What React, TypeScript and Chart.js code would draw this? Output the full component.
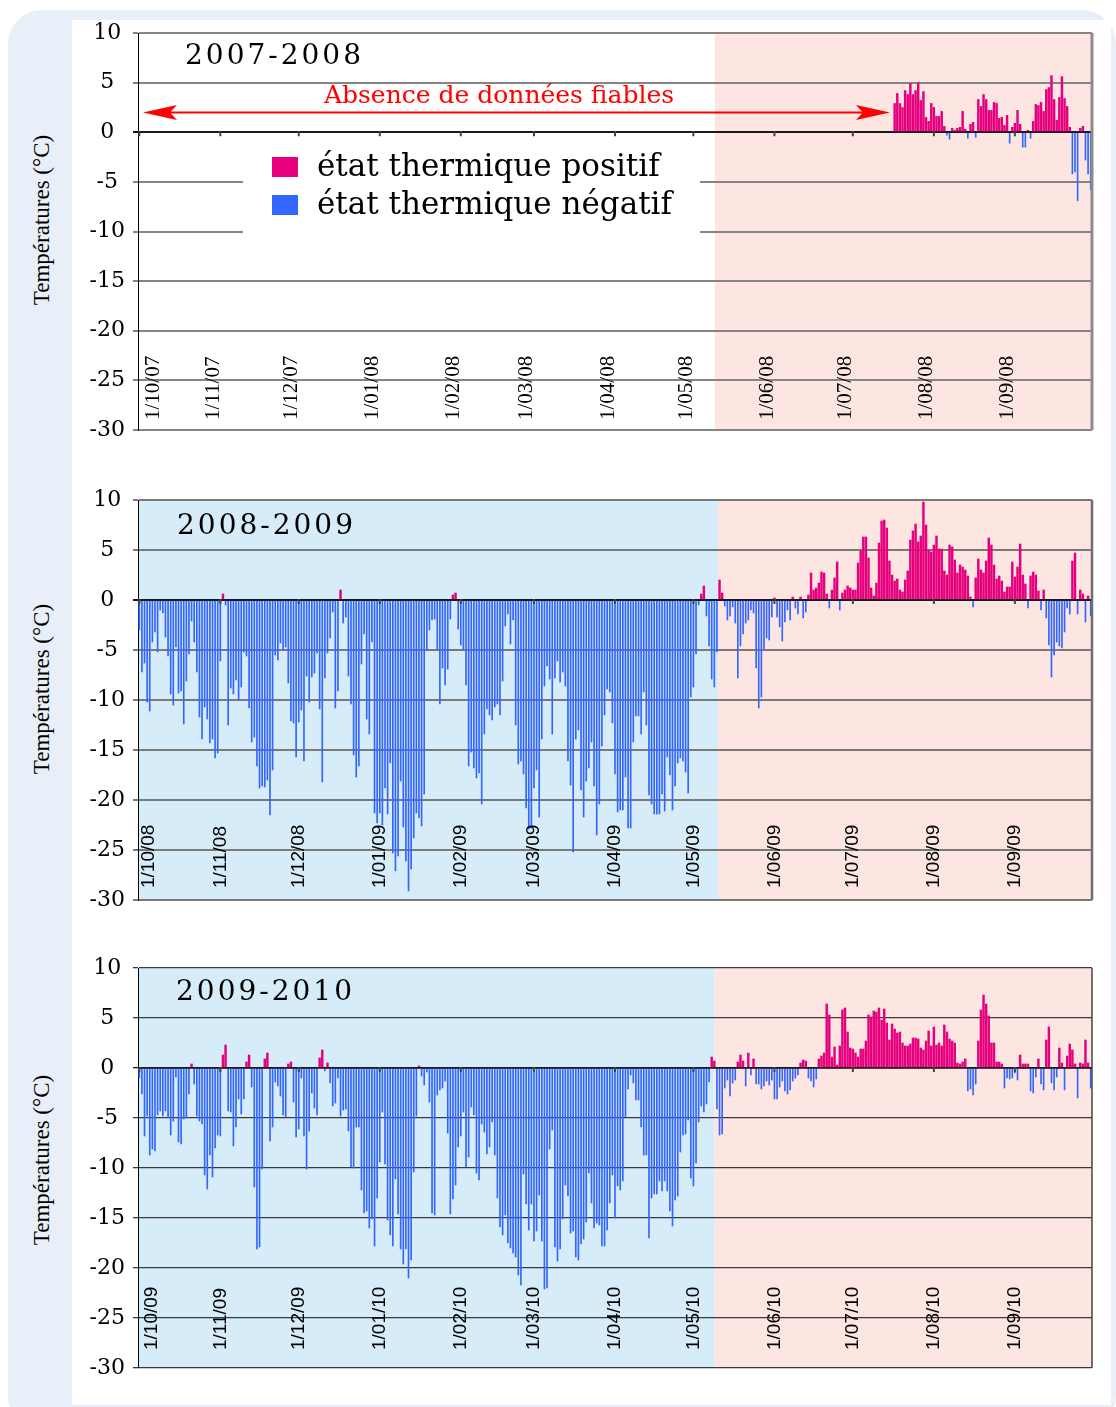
import React, { useEffect, useRef } from 'react';
import { Chart, registerables } from 'chart.js';

Chart.register(...registerables);

// ---------- data ----------
const DAY_COUNT = 365; // 1 October -> 30 September
const MONTH_START_DAYS = [0, 31, 61, 92, 123, 151, 182, 212, 243, 273, 304, 335];
const Y_MIN = -30;
const Y_MAX = 10;
const Y_STEP = 5;

const LABELS_2007_08 = ['1/10/07', '1/11/07', '1/12/07', '1/01/08', '1/02/08', '1/03/08', '1/04/08', '1/05/08', '1/06/08', '1/07/08', '1/08/08', '1/09/08'];
const LABELS_2008_09 = ['1/10/08', '1/11/08', '1/12/08', '1/01/09', '1/02/09', '1/03/09', '1/04/09', '1/05/09', '1/06/09', '1/07/09', '1/08/09', '1/09/09'];
const LABELS_2009_10 = ['1/10/09', '1/11/09', '1/12/09', '1/01/10', '1/02/10', '1/03/10', '1/04/10', '1/05/10', '1/06/10', '1/07/10', '1/08/10', '1/09/10'];

// 2007-2008: reliable data only from mid-July (day index 289)
const FIRST_DAY_2007_08 = 289;
const TEMPS_2007_08 = [
  2.9, 3.9, 2.9, 2.5, 4.2, 3.8, 4.9, 3.8, 4.2, 5,
  3.2, 4.1, 1.5, 1.1, 2.9, 2.5, 1.6, 1.6, 2.1, 0.6,
  -0.3, -0.7, 0.4, 0.2, 0.4, 0.5, 2.1, 0.3, -0.6, 0.8,
  1, -0.5, 3.3, 2.6, 3.8, 3.3, 2.2, 2.2, 3, 2.9,
  1.4, 1.5, 0.7, 1.7, -1.1, 0.5, 0.9, 2.2, 0.8, -1.5,
  -1.5, 0.2, -0.6, 1.1, 2.8, 2.7, 3, 2.1, 4.3, 4.5,
  5.7, 3.3, 1.2, 3.5, 5.6, 3.4, 2.6, 0.5, -4.2, -4,
  -6.9, 0.4, 0.6, -2.8, -4.2, -5.8,
];

const TEMPS_2008_09 = [
  // Oct
  -3, -7.2, -6.3, -10.2, -11.1, -4.2, -3.2, -5.2, -1, -1.3,
  -3.7, -5.6, -9.4, -10.5, -4.7, -9.3, -9.1, -12.4, -8.1, -5.4,
  -2.1, -4.2, -7.2, -11.7, -13.9, -10.7, -11.9, -14.3, -13.9, -15.8,
  -15.3,
  // Nov
  -6.1, 0.6, -0.5, -12.5, -8.8, -9.4, -8, -10, -8.7, -5.2,
  -5.6, -10.8, -14.2, -13.7, -16.6, -18.8, -18.6, -18.7, -18, -21.5,
  -17, -5.5, -6, -4.3, -5, -4.7, -8.3, -12.1, -12.3, -15.7,
  // Dec
  -12.2, -11, -16.1, -7.6, -10.2, -7.7, -7.3, -5.3, -10.9, -18.2,
  -7.8, -5.3, -3.8, -1.2, -10.8, -9.1, 1, -2.3, -1.7, -7.6,
  -10.4, -15.5, -17.7, -16.6, -6.4, -3.4, -11.9, -13.4, -4.2, -21.3,
  -22.3,
  // Jan
  -21.3, -22.5, -18.8, -21.4, -16.3, -25.3, -27.1, -25.6, -18.1, -22.7,
  -26.1, -29.1, -26.9, -23.8, -21.3, -21.8, -22.6, -19.4, -5, -3,
  -2, -1.9, -4.9, -10.4, -6.8, -8.5, -6.9, -1.9, 0.5, 0.7,
  -2.9,
  // Feb
  -4.5, -5, -8.5, -16.6, -15.2, -16.8, -17.8, -17.3, -20.4, -13.4,
  -10.9, -11.5, -12, -10.7, -10.4, -11.5, -8.1, -2.6, -1.4, -4.4,
  -2, -12.5, -16.4, -16.1, -17.4, -20.8, -22.9, -22.8,
  // Mar
  -18.8, -17, -21.7, -13.9, -8.6, -6.6, -7.9, -13.4, -7.8, -6.1,
  -8.2, -7.2, -8.6, -16.1, -18.5, -25.2, -13.9, -13, -19, -21.7,
  -18.1, -16.8, -14.2, -18.6, -23.5, -20.4, -14.6, -11.5, -8.9, -9.2,
  -12.3,
  // Apr
  -17.4, -21.2, -21, -21, -17.7, -22.8, -22.8, -14.2, -11.6, -11.6,
  -13.4, -9.2, -12.5, -19.5, -20.4, -21.4, -21.4, -21.4, -19.4, -21.1,
  -15.7, -17.5, -21, -18.6, -16.3, -15.8, -16.1, -17.2, -19.3, -9.7,
  // May
  -8.7, -5.4, -0.5, 0.6, 1.4, -1.6, -4.6, -7.9, -8.7, -5.2,
  2, 0.7, -0.6, -2, -1.6, -0.7, -2.3, -7.8, -4.6, -3.4,
  -2.3, -2, -1, -1.3, -6.8, -10.8, -9.7, -4.9, -3.8, -4,
  -1.7,
  // Jun
  0.2, -1.7, -2.7, -4.1, -2.2, -1, -2, 0.3, -0.8, -1.4,
  0.3, -1.8, -1.2, 0.5, 2.7, 1, 1.2, 1.7, 2.8, 2.7,
  0.6, -0.8, 1, 2.2, 3.8, -1, 0.7, 1, 1.4, 1.2,
  // Jul
  1, 1, 3.7, 4.9, 6.3, 6.3, 4.2, 1.2, 0.4, 1.7,
  5.7, 7.9, 8, 7.2, 3.9, 2.5, 1.9, 2.1, 1, 0.8,
  2, 2.9, 6, 6.9, 7.6, 5.8, 6.4, 9.8, 7.5, 5,
  4.8,
  // Aug
  5.5, 6.4, 5.1, 5.1, 2.9, 2.5, 5.5, 5.3, 4, 2.7,
  3.5, 3.3, 3, 2.4, 0.3, -0.7, 2.2, 4.1, 3, 2.7,
  3.9, 6.2, 5.5, 3.5, 2.1, 2.4, 1.9, 0.8, 1.3, 1.3,
  3.8,
  // Sep
  2.3, 3.3, 5.6, 2.5, 1.6, -0.8, 2.4, 2.8, 2.5, 0.9,
  -1, 1, -1.8, -4.5, -7.7, -5.5, -4.2, -4.6, -4.8, -3.2,
  -0.8, -1.4, 3.9, 4.7, -1.4, 1, 0.6, -2.2, 0.4, -1.6,
];

const TEMPS_2009_10 = [
  // Oct
  -1, -2.6, -6.8, -4.8, -8.7, -8.1, -8.3, -4.7, -4.3, -4.8,
  -4.3, -5, -6.7, -5.3, -0.9, -7.4, -7.6, -5.1, -5, -2.6,
  0.4, -1.6, -4.8, -5.3, -5.6, -10.7, -12.1, -8.7, -10.9, -8,
  -6.7,
  // Nov
  -6.8, 1.3, 2.3, -4.3, -4.4, -7.8, -5.9, -3.1, -4.6, -3.1,
  0.6, 1.3, -1.9, -11.9, -18.1, -17.9, -10.1, 0.9, 1.5, -7.3,
  -5.9, -1.4, -1.8, -2.8, -4.7, -4.9, 0.4, 0.6, -3.4, -6.9,
  // Dec
  -6.1, -1, -6.8, -10.1, -6.3, -2.5, -4, -4.7, 1, 1.8,
  -0.3, 0.5, -1.5, -3.8, -3.5, -1, -4.8, -4.2, -4.1, -6.3,
  -9.9, -10, -5.9, -5.9, -12.2, -14.5, -14.3, -16, -15.1, -17.8,
  -13,
  // Jan
  -9.4, -4.4, -9.6, -15.2, -16.7, -17.8, -11.1, -14.6, -18.1, -19.6,
  -18.1, -21, -19.2, -10.4, -4.8, 0.2, -0.8, -1.7, -0.4, -3.4,
  -14.5, -14.7, -2.7, -2.2, -2, -1.3, -6.5, -14.6, -13.1, -11.7,
  -7.9,
  // Feb
  -6.8, -4.4, -9.9, -8.9, -3.9, -4.7, -10.5, -11.2, -5.6, -6.4,
  -8.6, -7.9, -5.4, -8.7, -13, -15.9, -16.7, -14.7, -17.5, -18,
  -18.5, -18.9, -20.7, -21.7, -10.6, -13.6, -16.2, -13.6,
  // Mar
  -17.3, -16.3, -12.7, -17.3, -22.1, -22, -8.1, -6.2, -17.9, -19.3,
  -18.1, -15.1, -11.7, -12.8, -16.5, -16.3, -18.9, -19.2, -17.6, -17.1,
  -15.4, -10.5, -13.5, -16, -15.5, -15.7, -17.8, -17.8, -16.2, -13.5,
  -10.7,
  // Apr
  -15, -11.8, -12.2, -11.3, -4.9, -2.1, -0.7, -1.5, -3.2, -3.2,
  -5.9, -8.7, -8.7, -17, -13, -12.6, -12.6, -11.3, -12.3, -11.3,
  -12.3, -14.3, -15.8, -13.2, -12.8, -8.4, -6.7, -6.6, -5.2, -11,
  // May
  -11.8, -9.5, -5.4, -3.8, -4.4, -3.6, -1.4, 1.1, 0.7, -4.1,
  -6.7, -6.6, -2, -1.2, -2.8, -1.5, -1.2, 0.6, 1.3, 0.7,
  -1.8, 1.5, -0.7, 0.9, -1.6, -1.6, -2.1, -1.8, -1.3, -1.7,
  -1.2,
  // Jun
  -3.1, -3.1, -1.9, -1.3, -2.3, -2.6, -2.2, -1.3, -1, -0.7,
  0.5, 0.8, 0.7, -1, -1.3, -1.9, -1.1, 0.9, 1.2, 1.5,
  6.4, 5.3, 1.1, 2.1, 0.3, 2.2, 5.8, 6, 3.6, 2,
  // Jul
  1.9, 1.5, 1.1, 1.9, 1.9, 2.7, 5.3, 5.1, 5.7, 5.6,
  6, 4.8, 5.9, 4.5, 2.8, 4.4, 3.9, 3.5, 3.6, 2.5,
  2.2, 2.2, 2.4, 3, 3, 2.9, 2, 1.8, 2.7, 3.7,
  2.2,
  // Aug
  4.1, 2.3, 2.5, 2.2, 4.3, 3.6, 2.9, 2.7, 2.5, 0.5,
  0.4, 0.6, 0.9, -2.3, -2.1, -2.7, -1.6, 2.7, 5.8, 7.3,
  6.4, 5.2, 2.5, 2.5, 0.6, 0.6, 0.4, -2, -1, -1.1,
  -1,
  // Sep
  -0.5, -1.2, 1.3, 0.4, 0.4, 0.4, -2.3, -2.5, -0.9, 0.9,
  -1.6, -2.2, 2.8, 4.1, -1.5, -2.2, -0.9, 2, 0.5, -2.2,
  1.2, 2.4, 1.8, 0.4, -3, 0.5, 0.4, 2.8, 0.5, -2,
];

// day index where the winter (blue) season ends and summer (pink) starts
const BOUNDARY_2007_08 = 220.2;
const BOUNDARY_2008_09 = 221.4;
const BOUNDARY_2009_10 = 220.1;

// "Absence de données fiables" arrow (2007-2008)
const ARROW_VALUE = 2;
const ARROW_FROM_DAY = 1.4;
const ARROW_TO_DAY = 287.2;

// ---------- style ----------
const POS_COLOR = '#E6007E';
const NEG_COLOR = '#3366FF';
const BLUE_BG = '#D6ECF8';
const PINK_BG = '#FDE6E1';
const PAGE_BG = '#E9EFF8';
const CANVAS_LEFT = 72;
const CANVAS_WIDTH = 1038;

type PanelCfg = {
  title: string;
  values: number[];
  firstDay: number;
  labels: string[];
  boundary: number;
  shadeWinter: boolean;
  top: number;
  height: number;
  padTop: number;
  padBottom: number;
  gridColor: string;
  gridWidth: number;
  rightColor: string;
  rightWidth: number;
  titleX: number;
  titleBase: number;
  labelFont: string;
  labelBottom: number;
  labelShift: number;
  firstLabelX: number;
  legend: boolean;
  arrow: boolean;
  axisTitleY: number;
};

const PANELS: PanelCfg[] = [
  {
    title: '2007-2008', values: TEMPS_2007_08, firstDay: FIRST_DAY_2007_08, labels: LABELS_2007_08,
    boundary: BOUNDARY_2007_08, shadeWinter: false, top: 1, height: 459, padTop: 32, padBottom: 30,
    gridColor: '#858585', gridWidth: 2, rightColor: '#8c8c8c', rightWidth: 3,
    titleX: 47, titleBase: 31, labelFont: '21px "Liberation Serif"', labelBottom: 10, labelShift: -7, firstLabelX: 15,
    legend: true, arrow: true, axisTitleY: 220,
  },
  {
    title: '2008-2009', values: TEMPS_2008_09, firstDay: 0, labels: LABELS_2008_09,
    boundary: BOUNDARY_2008_09, shadeWinter: true, top: 468, height: 462, padTop: 32, padBottom: 30,
    gridColor: '#7a7a7a', gridWidth: 2, rightColor: '#6e6e6e', rightWidth: 2.5,
    titleX: 39, titleBase: 34, labelFont: '19px "Liberation Sans"', labelBottom: 12, labelShift: 0, firstLabelX: 11,
    legend: false, arrow: false, axisTitleY: 689,
  },
  {
    title: '2009-2010', values: TEMPS_2009_10, firstDay: 0, labels: LABELS_2009_10,
    boundary: BOUNDARY_2009_10, shadeWinter: true, top: 936, height: 462, padTop: 32, padBottom: 30,
    gridColor: '#3a3a3a', gridWidth: 1.3, rightColor: '#444', rightWidth: 1.5,
    titleX: 38, titleBase: 32, labelFont: '19px "Liberation Sans"', labelBottom: 18, labelShift: 0, firstLabelX: 14,
    legend: false, arrow: false, axisTitleY: 1160,
  },
];

function drawArrowHead(ctx: CanvasRenderingContext2D, tipX: number, y: number, dir: number) {
  const len = 34;
  const half = 7.5;
  const notch = 7;
  ctx.beginPath();
  ctx.moveTo(tipX, y);
  ctx.lineTo(tipX + dir * len, y - half);
  ctx.lineTo(tipX + dir * (len - notch), y);
  ctx.lineTo(tipX + dir * len, y + half);
  ctx.closePath();
  ctx.fill();
}

function makeDecor(cfg: PanelCfg) {
  return {
    id: 'panelDecor',
    beforeDraw(chart: any) {
      const { ctx, chartArea: a, scales } = chart;
      const bx = scales.x.getPixelForValue(cfg.boundary);
      ctx.save();
      if (cfg.shadeWinter) {
        ctx.fillStyle = BLUE_BG;
        ctx.fillRect(a.left, a.top, bx - a.left, a.bottom - a.top);
      }
      ctx.fillStyle = PINK_BG;
      ctx.fillRect(bx, a.top, a.right - bx, a.bottom - a.top);
      ctx.restore();
    },
    afterDatasetsDraw(chart: any) {
      const { ctx, chartArea: a, scales } = chart;
      const x = scales.x;
      const y = scales.y;
      const y0 = y.getPixelForValue(0);
      ctx.save();
      // zero line over bars
      ctx.strokeStyle = '#1a1a1a';
      ctx.lineWidth = 1.3;
      ctx.beginPath();
      ctx.moveTo(a.left, y0);
      ctx.lineTo(a.right, y0);
      ctx.stroke();
      // month tick marks
      ctx.fillStyle = '#444';
      MONTH_START_DAYS.forEach((d) => {
        const px = x.getPixelForValue(d);
        ctx.fillRect(px - 1, y0 - 1, 2, 5);
      });
      // right border
      ctx.strokeStyle = cfg.rightColor;
      ctx.lineWidth = cfg.rightWidth;
      ctx.beginPath();
      ctx.moveTo(a.right, a.top);
      ctx.lineTo(a.right, a.bottom);
      ctx.stroke();
      // month labels
      ctx.fillStyle = '#000';
      ctx.font = cfg.labelFont;
      ctx.textAlign = 'left';
      ctx.textBaseline = 'middle';
      cfg.labels.forEach((lab, i) => {
        let px = x.getPixelForValue(MONTH_START_DAYS[i]) + cfg.labelShift;
        if (i === 0) px = a.left + cfg.firstLabelX;
        ctx.save();
        ctx.translate(px, a.bottom - cfg.labelBottom);
        ctx.rotate(-Math.PI / 2);
        ctx.fillText(lab, 0, 0);
        ctx.restore();
      });
      // season title
      ctx.font = '28px "DejaVu Serif"';
      (ctx as any).letterSpacing = '3px';
      ctx.textBaseline = 'alphabetic';
      ctx.fillText(cfg.title, a.left + cfg.titleX, a.top + cfg.titleBase);
      (ctx as any).letterSpacing = '0px';
      if (cfg.arrow) {
        const ay = y.getPixelForValue(ARROW_VALUE);
        const x1 = x.getPixelForValue(ARROW_FROM_DAY);
        const x2 = x.getPixelForValue(ARROW_TO_DAY);
        ctx.strokeStyle = '#FF0000';
        ctx.fillStyle = '#FF0000';
        ctx.lineWidth = 2;
        ctx.beginPath();
        ctx.moveTo(x1 + 20, ay);
        ctx.lineTo(x2 - 20, ay);
        ctx.stroke();
        drawArrowHead(ctx, x1, ay, 1);
        drawArrowHead(ctx, x2, ay, -1);
        ctx.font = '25px "DejaVu Serif"';
        ctx.textAlign = 'center';
        ctx.fillText('Absence de données fiables', a.left + 361, ay - 9);
      }
      if (cfg.legend) {
        ctx.fillStyle = '#FFFFFF';
        ctx.fillRect(a.left + 105, a.top + 107, 457, 96);
        ctx.fillStyle = POS_COLOR;
        ctx.fillRect(a.left + 134, a.top + 124, 26, 20);
        ctx.fillStyle = NEG_COLOR;
        ctx.fillRect(a.left + 134, a.top + 162, 26, 20);
        ctx.fillStyle = '#000';
        ctx.font = '31px "DejaVu Serif"';
        ctx.textAlign = 'left';
        ctx.textBaseline = 'alphabetic';
        ctx.fillText('état thermique positif', a.left + 179, a.top + 143);
        ctx.fillText('état thermique négatif', a.left + 179, a.top + 181);
      }
      ctx.restore();
    },
  };
}

function Panel({ cfg }: { cfg: PanelCfg }) {
  const ref = useRef<HTMLCanvasElement>(null);
  useEffect(() => {
    const pos = cfg.values
      .map((v, i) => ({ x: cfg.firstDay + i, y: v }))
      .filter((p) => p.y > 0);
    const neg = cfg.values
      .map((v, i) => ({ x: cfg.firstDay + i, y: v }))
      .filter((p) => p.y < 0);
    const chart = new Chart(ref.current as HTMLCanvasElement, {
      type: 'bar',
      data: {
        datasets: [
          { label: 'état thermique positif', data: pos, backgroundColor: POS_COLOR, barThickness: 1.8, grouped: false } as any,
          { label: 'état thermique négatif', data: neg, backgroundColor: NEG_COLOR, barThickness: 1, grouped: false } as any,
        ],
      },
      options: {
        responsive: false,
        animation: false,
        devicePixelRatio: 1,
        events: [],
        layout: { padding: { left: 0, right: 18, top: cfg.padTop, bottom: cfg.padBottom } },
        plugins: { legend: { display: false }, tooltip: { enabled: false } },
        scales: {
          x: { type: 'linear', min: -0.5, max: DAY_COUNT - 0.5, display: false, offset: false },
          y: {
            min: Y_MIN,
            max: Y_MAX,
            afterFit: (s: any) => { s.width = 66; },
            ticks: {
              stepSize: Y_STEP,
              color: '#000',
              font: { family: '"DejaVu Serif", serif', size: 22 },
              crossAlign: 'center',
              padding: 8,
            },
            grid: {
              color: (c: any) => (c.tick && c.tick.value === 0 ? '#1a1a1a' : cfg.gridColor),
              lineWidth: cfg.gridWidth,
              tickLength: 5,
            },
            border: { display: true, color: '#000', width: 1 },
          },
        },
      } as any,
      plugins: [makeDecor(cfg)],
    });
    return () => chart.destroy();
  }, [cfg]);
  return (
    <canvas
      ref={ref}
      width={CANVAS_WIDTH}
      height={cfg.height}
      style={{ position: 'absolute', left: CANVAS_LEFT, top: cfg.top, width: CANVAS_WIDTH, height: cfg.height }}
    />
  );
}

export default function App() {
  useEffect(() => {
    document.body.style.margin = '0';
    document.body.style.overflow = 'hidden';
  }, []);
  return (
    <div style={{ position: 'absolute', left: 0, top: 0, width: 1116, height: 1407, overflow: 'hidden', background: '#fff' }}>
      <div style={{ position: 'absolute', left: 8, top: 10, width: 1108, height: 1420, background: PAGE_BG, borderRadius: 34 }} />
      <div style={{ position: 'absolute', left: 72, top: 20, width: 1039, height: 1385, background: '#fff' }} />
      {PANELS.map((p) => (
        <div
          key={'t' + p.title}
          style={{
            position: 'absolute', left: 42, top: p.axisTitleY, transform: 'translate(-50%, -50%) rotate(-90deg)',
            whiteSpace: 'nowrap', font: '23px "Liberation Serif"', color: '#000',
          }}
        >
          Températures (°C)
        </div>
      ))}
      {PANELS.map((p) => (
        <Panel key={p.title} cfg={p} />
      ))}
    </div>
  );
}
